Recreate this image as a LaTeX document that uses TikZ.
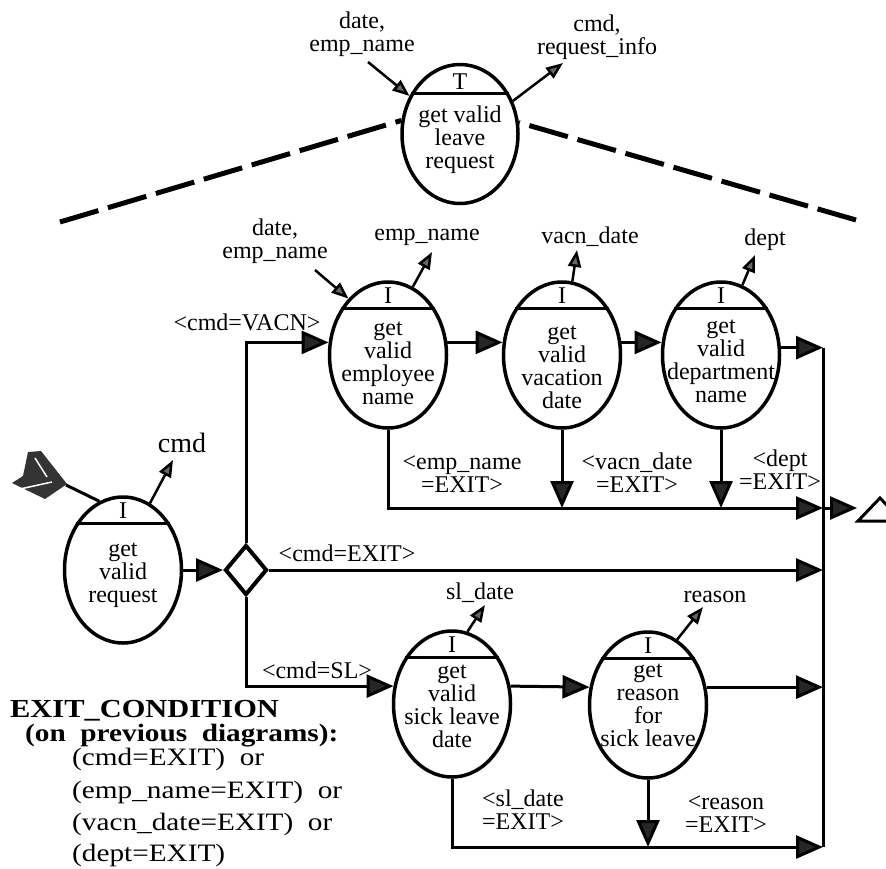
\documentclass[tikz,border=0pt]{standalone}
\usepackage{fontspec}
\setmainfont{Liberation Serif}
\newfontfamily\breit[FakeStretch=1.17]{Liberation Serif}
\usetikzlibrary{shapes.geometric,arrows.meta}

\newcommand\schrift{\fontsize{24}{23}\selectfont}

% Prozess: Name, x, y, Buchstabe, Text, Textverschiebung nach unten
\def\prozess#1#2#3#4#5#6{
	\node[proz] (#1) at (#2,#3) {};
	\draw[kappe] (#1.135) -- (#1.45);
	\node[lbl] at ([yshift=59pt]#1.center) {#4};
	\node[lbl] at ([yshift=-#6pt]#1.center) {#5};
}

\begin{document}
\begin{tikzpicture}[x=1pt,y=-1pt,
	proz/.style={ellipse,draw,line width=3.5pt,minimum width=117pt,minimum height=146pt,inner sep=0pt},
	kappe/.style={line width=3pt},
	lbl/.style={align=center,font=\schrift,inner sep=0pt},
	fluss/.style={line width=3pt,-{Triangle[length=27pt,width=23pt,fill=black!85]}},
	aus/.style={line width=2.5pt,-{Triangle[length=17pt,width=13pt,fill=black!60]}},
	strich/.style={line width=5pt,dash pattern=on 40pt off 10pt},
	raute/.style={diamond,draw,line width=4pt,minimum width=42pt,minimum height=50pt,inner sep=0pt},
	bed/.style={anchor=base west,inner sep=0pt,font=\fontsize{25}{25}\selectfont\breit}]
\useasboundingbox (0,0) rectangle (886,868);
\clip (0,0) rectangle (886,868);

% oberer Prozess
\node[proz,minimum width=116pt,minimum height=139pt] (T) at (460,134) {};
\draw[kappe] (T.140) -- (T.40);
\node[lbl] at ([yshift=52pt]T.center) {T};
\node[lbl] at ([yshift=-6pt]T.center) {get valid\\leave\\request};
\node[lbl] (tin) at (362,34) {date,\\emp\_name};
\node[lbl] (tout) at (597,37) {cmd,\\request\_info};
\coordinate (tinp) at (368,62);
\coordinate (toutp) at (563,63);
\draw[aus] (tinp) -- (T.143);
\draw[aus] (T.32) -- (toutp);
\coordinate (links) at (60,222);
\coordinate (rechts) at (856,220);
\draw[strich] (links) -- (T.167);
\draw[strich] (rechts) -- (T.11);

% Prozesse
\prozess{R}{123}{570}{I}{get\\valid\\request}{5}
\prozess{E1}{388}{355}{I}{get\\valid\\employee\\name}{8}
\prozess{E2}{562}{355}{I}{get\\valid\\vacation\\date}{12}
\prozess{E3}{721}{355}{I}{get\\valid\\department\\name}{6}
\prozess{S1}{452}{704}{I}{get\\valid\\sick leave\\date}{2}
\prozess{S2}{648}{705}{I}{get\\reason\\for\\sick leave}{0}
\node[raute] (D) at (246,570) {};

% Eingang
\fill[black!80] (12,483) -- (23,476) -- (28,452) -- (41,451) -- (67,484) -- (45,499) -- cycle;
\draw[white,line width=1.5pt] (20,489) -- (52,482);
\draw[white,line width=1.5pt] (35,458) -- (47,477);
\coordinate (feder) at (66,485);
\draw[line width=3pt] (feder) -- (R.109);

% Ausgaben
\node[lbl,font=\fontsize{28}{28}\selectfont] (ocmd) at (182,443) {cmd};
\node[lbl] (ein1) at (275,241) {date,\\emp\_name};
\node[lbl] (o1) at (427,237) {emp\_name};
\node[lbl] (o2) at (590,237) {vacn\_date};
\node[lbl] (o3) at (765,240) {dept};
\node[lbl] (o4) at (480,593) {sl\_date};
\node[lbl] (o5) at (715,597) {reason};
\coordinate (ocmdp) at (173,460);
\coordinate (ein1p) at (315,270);
\coordinate (o1p) at (432,252);
\coordinate (o2p) at (577,250);
\coordinate (o3p) at (755,255);
\coordinate (o4p) at (485,605);
\coordinate (o5p) at (703,607);
\draw[aus] (R.68) -- (ocmdp);
\draw[aus] (ein1p) -- (E1.125);
\draw[aus] (E1.70) -- (o1p);
\draw[aus] (E2.82) -- (o2p);
\draw[aus] (E3.73) -- (o3p);
\draw[aus] (S1.78) -- (o4p);
\draw[aus] (S2.66) -- (o5p);

% Sammelschiene
\coordinate (b0) at (823,348);
\coordinate (b1) at (823,508);
\coordinate (b4) at (823,847);
\draw[line width=3pt] (b0) -- (b4);

% Fluss
\draw[fluss] (R.east) -- (D.west);
\draw[fluss] (D.north) |- (E1.168);
\draw[fluss] (E1.12) -- (E2.168);
\draw[fluss] (E2.12) -- (E3.168);
\draw[fluss] (E3.7) -- (E3.7 -| b0);
\draw[fluss] (E1.south) |- (b1);
\draw[fluss] (E2.south) -- (E2.south |- b1);
\draw[fluss] (E3.south) -- (E3.south |- b1);
\draw[fluss] (D.east) -- (D.east -| b0);
\draw[fluss] (D.south) |- (S1.163);
\draw[fluss] (S1.17) -- (S2.163);
\draw[fluss] (S2.17) -- (S2.17 -| b0);
\draw[fluss] (S1.south) |- (b4);
\draw[fluss] (S2.south) -- (S2.south |- b4);
\coordinate (ziel) at (857,508);
\draw[fluss] (b1) -- (ziel);
\draw[line width=3pt] (858,521) -- (880,498) -- (902,521) -- cycle;

% Bedingungen
\node[lbl] at (247,322) {<cmd=VACN>};
\node[lbl] at (347,553) {<cmd=EXIT>};
\node[lbl] at (317,670) {<cmd=SL>};
\node[lbl] at (462,474) {<emp\_name\\=EXIT>};
\node[lbl] at (637,473) {<vacn\_date\\=EXIT>};
\node[lbl] at (780,470) {<dept\\=EXIT>};
\node[lbl,align=left] at (523,810) {<sl\_date\\=EXIT>};
\node[lbl] at (726,814) {<reason\\=EXIT>};

% Abbruchbedingung
\node[bed,font=\fontsize{26}{26}\selectfont\breit\bfseries] at (10,717) {EXIT\_CONDITION};
\node[bed,font=\fontsize{25}{25}\selectfont\breit\bfseries] at (25,741) {(on\ \ previous\ \ diagrams):};
\foreach \z/\t in {765/{(cmd=EXIT)\ \ or},798/{(emp\_name=EXIT)\ \ or},830/{(vacn\_date=EXIT)\ \ or},861/{(dept=EXIT)}}{
	\node[bed] at (72,\z) {\t};
}
\end{tikzpicture}
\end{document}
